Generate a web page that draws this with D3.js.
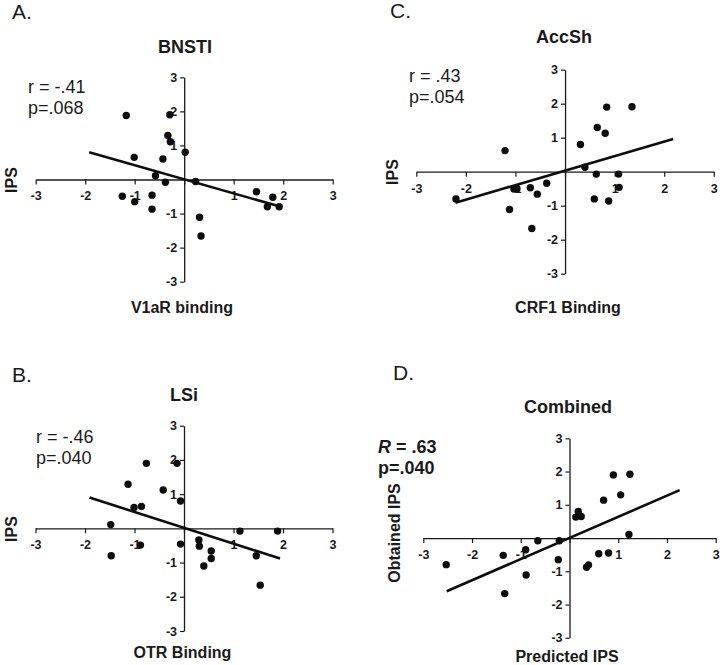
<!DOCTYPE html>
<html>
<head>
<meta charset="utf-8">
<script src="https://cdn.jsdelivr.net/npm/d3@7/dist/d3.min.js"></script>
<style>
  html, body { margin: 0; padding: 0; background: #fff; }
  svg { display: block; }
  text { font-family: "Liberation Sans", Arial, Helvetica, sans-serif; fill: #1a1a1a; }
</style>
</head>
<body>
<svg id="chart" width="720" height="665"></svg>
<script>
// ---- Data ----
const tickValues = [-3, -2, -1, 0, 1, 2, 3];

// Panel A: BNSTI  (V1aR binding vs IPS)
const aX = [-1.17, -0.29, -0.33, -0.28, 0.02, -1.01, -0.43, -0.58, -0.38, 0.23, -1.25, -1.00, -0.65, -0.65, 0.31, 0.34, 1.46, 1.79, 1.68, 1.92];
const aY = [1.88, 1.90, 1.29, 1.11, 0.80, 0.65, 0.60, 0.11, -0.08, -0.06, -0.49, -0.65, -0.46, -0.87, -1.11, -1.66, -0.36, -0.52, -0.80, -0.80];
const aFitX = [-1.92, 1.90];
const aFitY = [0.80, -0.78];

// Panel C: AccSh  (CRF1 Binding vs IPS)
const cX = [-2.20, -1.21, -1.12, -1.03, -0.97, -0.70, -0.56, -0.37, -0.67, 0.31, 0.40, 0.63, 0.59, 0.65, 0.81, 0.84, 1.35, 0.88, 1.08, 1.09];
const cY = [-0.80, 0.62, -1.11, -0.51, -0.50, -0.47, -0.66, -0.34, -1.67, 0.80, 0.13, -0.07, -0.80, 1.30, 1.13, 1.90, 1.91, -0.86, -0.07, -0.46];
const cFitX = [-2.21, 2.18];
const cFitY = [-0.91, 0.96];

// Panel B: LSi  (OTR Binding vs IPS)
const bX = [-0.76, -0.14, -1.13, -0.42, -0.07, -1.01, -0.86, -1.48, -1.47, -0.88, -0.07, 0.30, 0.31, 0.55, 0.55, 0.40, 1.13, 1.89, 1.46, 1.54];
const bY = [1.90, 1.90, 1.29, 1.12, 0.80, 0.61, 0.64, 0.11, -0.80, -0.49, -0.46, -0.34, -0.52, -0.66, -0.88, -1.10, -0.08, -0.08, -0.80, -1.66];
const bFitX = [-1.91, 1.94];
const bFitY = [0.90, -0.88];

// Panel D: Combined  (Predicted IPS vs Obtained IPS)
const dX = [-2.53, -1.36, -1.33, -0.90, -0.89, -0.65, -0.21, -0.23, 0.13, 0.18, 0.24, 0.35, 0.39, 0.60, 0.80, 0.70, 0.90, 1.05, 1.24, 1.22];
const dY = [-0.80, -0.52, -1.67, -0.35, -1.11, -0.08, -0.08, -0.65, 0.63, 0.80, 0.65, -0.88, -0.81, -0.47, -0.45, 1.14, 1.90, 1.30, 1.92, 0.11];
const dFitX = [-2.52, 2.26];
const dFitY = [-1.60, 1.44];

// ---- Layout ----
const panels = [
  { letter: "A.", letterPos: [12, 19], title: "BNSTI", titlePos: [185, 53],
    xr: [35.7, 332.7], yr: [281.7, 77.3], xs: aX, ys: aY, fx: aFitX, fy: aFitY,
    stats: ["r = -.41", "p=.068"], statsPos: [28, 93], bold: false,
    yLabel: "IPS", yLabelPos: [12, 180], xLabel: "V1aR binding", xLabelPos: [182, 313] },
  { letter: "C.", letterPos: [390, 18], title: "AccSh", titlePos: [564, 43],
    xr: [416.3, 713.8], yr: [273.7, 69.7], xs: cX, ys: cY, fx: cFitX, fy: cFitY,
    stats: ["r = .43", "p=.054"], statsPos: [409, 82], bold: false,
    yLabel: "IPS", yLabelPos: [393, 172], xLabel: "CRF1 Binding", xLabelPos: [568, 313] },
  { letter: "B.", letterPos: [12, 382], title: "LSi", titlePos: [184, 401],
    xr: [35.5, 332.5], yr: [631, 425.7], xs: bX, ys: bY, fx: bFitX, fy: bFitY,
    stats: ["r = -.46", "p=.040"], statsPos: [36, 443], bold: false,
    yLabel: "IPS", yLabelPos: [12, 529], xLabel: "OTR Binding", xLabelPos: [182.5, 658] },
  { letter: "D.", letterPos: [393, 380], title: "Combined", titlePos: [568, 413],
    xr: [423.3, 715.7], yr: [637.8, 438.3], xs: dX, ys: dY, fx: dFitX, fy: dFitY,
    stats: ["R = .63", "p=.040"], statsPos: [378, 453], bold: true,
    yLabel: "Obtained IPS", yLabelPos: [395, 533], xLabel: "Predicted IPS", xLabelPos: [567, 662] }
];

const svg = d3.select("#chart");
const ink = "#1a1a1a";

panels.forEach(p => {
  const g = svg.append("g");
  const x = d3.scaleLinear().domain([-3, 3]).range(p.xr);
  const y = d3.scaleLinear().domain([-3, 3]).range(p.yr);

  // Panel letter
  g.append("text").attr("x", p.letterPos[0]).attr("y", p.letterPos[1])
    .attr("font-size", 21).text(p.letter);
  // Title
  g.append("text").attr("x", p.titlePos[0]).attr("y", p.titlePos[1])
    .attr("text-anchor", "middle").attr("font-size", 18).attr("font-weight", "bold")
    .text(p.title);

  // Stats
  const st = g.append("g").attr("font-size", 18).attr("font-weight", p.bold ? "bold" : "normal");
  if (p.bold) {
    const t = st.append("text").attr("x", p.statsPos[0]).attr("y", p.statsPos[1]);
    t.append("tspan").attr("font-style", "italic").text(p.stats[0].slice(0, 1));
    t.append("tspan").text(p.stats[0].slice(1));
  } else {
    st.append("text").attr("x", p.statsPos[0]).attr("y", p.statsPos[1]).text(p.stats[0]);
  }
  st.append("text").attr("x", p.statsPos[0]).attr("y", p.statsPos[1] + 21).text(p.stats[1]);

  // Axes through origin
  const fmt = d => d === 0 ? "" : String(d);
  const xAxis = d3.axisBottom(x).tickValues(tickValues).tickFormat(fmt)
    .tickSize(5).tickPadding(7).tickSizeOuter(0);
  const yAxis = d3.axisLeft(y).tickValues(tickValues).tickFormat(fmt)
    .tickSize(4).tickPadding(3).tickSizeOuter(0);

  const gx = g.append("g").attr("transform", `translate(0,${y(0)})`).call(xAxis);
  const gy = g.append("g").attr("transform", `translate(${x(0)},0)`).call(yAxis);
  [gx, gy].forEach(a => {
    a.select(".domain").attr("stroke", ink).attr("stroke-width", 1.3);
    a.selectAll(".tick line").attr("stroke", ink).attr("stroke-width", 1.2);
    a.selectAll(".tick text").attr("fill", ink).attr("font-size", 12.5)
      .attr("font-weight", "bold")
      .attr("font-family", "'Liberation Sans', Arial, sans-serif");
  });
  gy.selectAll(".tick").filter(d => d === 0).select("line").remove();

  // Axis labels
  g.append("text")
    .attr("transform", `translate(${p.yLabelPos[0] + 5},${p.yLabelPos[1]}) rotate(-90)`)
    .attr("text-anchor", "middle").attr("font-size", 16).attr("font-weight", "bold")
    .text(p.yLabel);
  g.append("text").attr("x", p.xLabelPos[0]).attr("y", p.xLabelPos[1])
    .attr("text-anchor", "middle").attr("font-size", 16).attr("font-weight", "bold")
    .text(p.xLabel);

  // Points
  const pts = p.xs.map((v, i) => [v, p.ys[i]]);
  g.append("g").selectAll("circle").data(pts).join("circle")
    .attr("cx", d => x(d[0])).attr("cy", d => y(d[1])).attr("r", 3.7)
    .attr("fill", "#0d0d0d");

  // Regression line
  const fit = p.fx.map((v, i) => [v, p.fy[i]]);
  g.append("path").datum(fit)
    .attr("d", d3.line().x(d => x(d[0])).y(d => y(d[1])))
    .attr("fill", "none").attr("stroke", "#0d0d0d").attr("stroke-width", 2.6);
});
</script>
</body>
</html>
